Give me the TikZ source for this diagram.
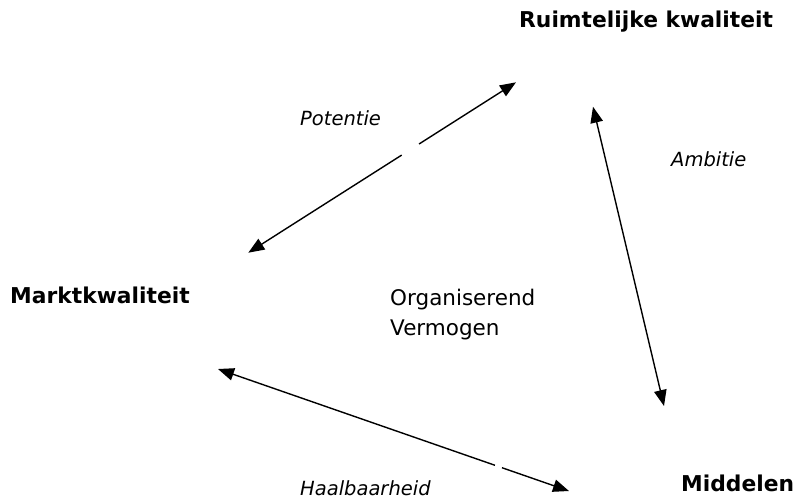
\documentclass[tikz,border=0pt]{standalone}
\usepackage{fontspec}
\setmainfont{DejaVu Sans}
\usetikzlibrary{arrows.meta}
\tikzset{
  conn/.style={line width=1.4pt, draw=black},
  tipend/.style={-{Triangle[length=16pt,width=12.5pt]}},
  tipboth/.style={{Triangle[length=16pt,width=12.5pt]}-{Triangle[length=16pt,width=12.5pt]}},
  boldlbl/.style={inner sep=0pt, anchor=base west, font=\fontsize{21.8}{26}\selectfont\bfseries},
  itlbl/.style={inner sep=0pt, anchor=base west, font=\fontsize{19.5}{24}\selectfont\itshape},
  plainlbl/.style={inner sep=0pt, anchor=base west, align=left, font=\fontsize{21.5}{30}\selectfont},
}
\begin{document}
\begin{tikzpicture}[x=1pt,y=-1pt]
\useasboundingbox (0,0) rectangle (799,499);
% labels
\node[boldlbl] (ruimte) at (519,27) {Ruimtelijke kwaliteit};
\node[boldlbl] (markt) at (10,303) {Marktkwaliteit};
\node[boldlbl] (middel) at (681,491) {Middelen};
\node[itlbl] (pot) at (300,125) {Potentie};
\node[itlbl] (amb) at (671,166) {Ambitie};
\node[itlbl] (haal) at (300,495) {Haalbaarheid};
\node[plainlbl] (org) at (390,335) {Organiserend\\Vermogen};
% arrow end points
\coordinate (pA) at (248.3,252.7);
\coordinate (pB) at (516,82.3);
\coordinate (aA) at (593,106.7);
\coordinate (aB) at (664,406);
\coordinate (hA) at (218,369);
\coordinate (hB) at (569,491);
% gaps
\path (pA) -- (pB) coordinate[pos=0.573] (pg1) coordinate[pos=0.638] (pg2);
\path (hA) -- (hB) coordinate[pos=0.789] (hg1) coordinate[pos=0.809] (hg2);
% Potentie
\draw[conn,tipend] (pg1) -- (pA);
\draw[conn,tipend] (pg2) -- (pB);
% Ambitie
\draw[conn,tipboth] (aA) -- (aB);
% Haalbaarheid
\draw[conn,tipend] (hg1) -- (hA);
\draw[conn,tipend] (hg2) -- (hB);
\end{tikzpicture}
\end{document}
